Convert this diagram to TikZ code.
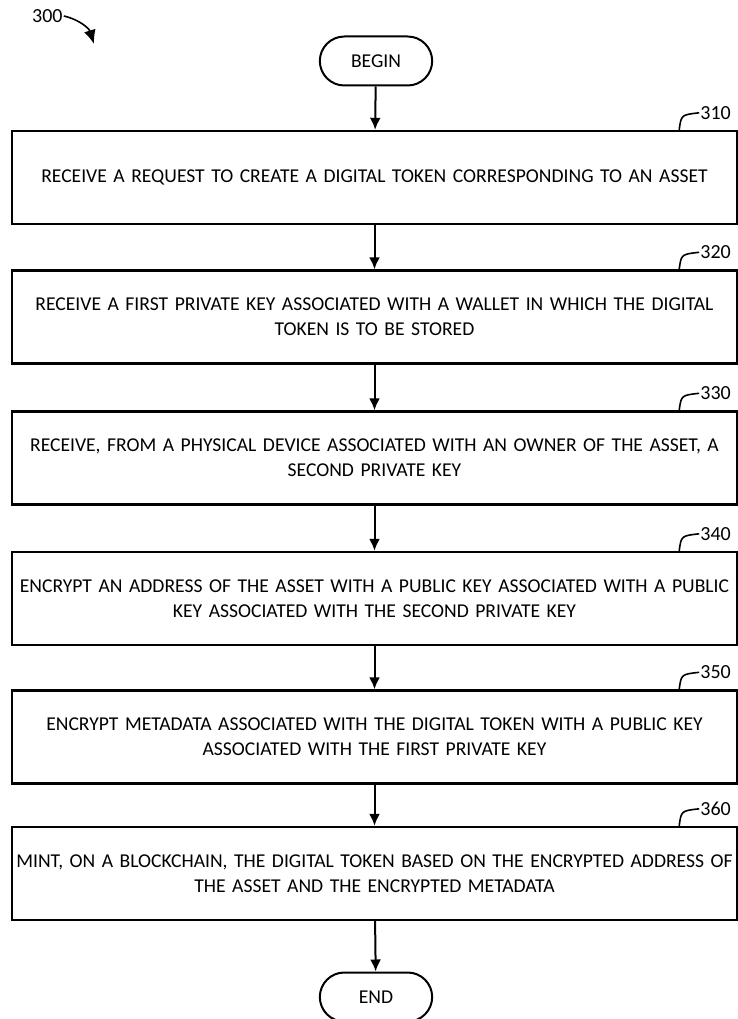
\documentclass[tikz,border=0pt]{standalone}
\usepackage{fontspec}
\setmainfont{Carlito}
\usetikzlibrary{shapes.misc,calc,arrows.meta}
\begin{document}
\begin{tikzpicture}[x=1pt,y=-1pt]
		\tikzstyle{step box}=[rectangle,draw,line width=2.4pt,minimum width=725pt,minimum height=93pt,text width=722pt,align=center,inner sep=1pt,font=\fontsize{19.6}{25}\selectfont]
		\tikzstyle{term}=[rounded rectangle,draw,line width=2pt,minimum width=119pt,minimum height=49pt,font=\fontsize{19.6}{22}\selectfont]
		\tikzstyle{edge}=[-{Latex[length=12pt,width=11pt]},line width=2pt]
		\tikzstyle{refnum}=[anchor=west,inner sep=1pt,font=\fontsize{20}{22}\selectfont]
		
		\useasboundingbox (0,0) rectangle (738,1019);
		
		\node [term] (begin) at (376, 61) {BEGIN};
		
		\node [step box] (s310) at (374.5, 177.5) {RECEIVE A REQUEST TO CREATE A DIGITAL TOKEN CORRESPONDING TO AN ASSET};
		\node [step box] (s320) at (374.5, 317) {RECEIVE A FIRST PRIVATE KEY ASSOCIATED WITH A WALLET IN WHICH THE DIGITAL\\TOKEN IS TO BE STORED};
		\node [step box] (s330) at (374.5, 458) {RECEIVE, FROM A PHYSICAL DEVICE ASSOCIATED WITH AN OWNER OF THE ASSET, A\\SECOND PRIVATE KEY};
		\node [step box] (s340) at (374.5, 598.5) {ENCRYPT AN ADDRESS OF THE ASSET WITH A PUBLIC KEY ASSOCIATED WITH A PUBLIC\\KEY ASSOCIATED WITH THE SECOND PRIVATE KEY};
		\node [step box] (s350) at (374.5, 737) {ENCRYPT METADATA ASSOCIATED WITH THE DIGITAL TOKEN WITH A PUBLIC KEY\\ASSOCIATED WITH THE FIRST PRIVATE KEY};
		\node [step box] (s360) at (374.5, 873.5) {MINT, ON A BLOCKCHAIN, THE DIGITAL TOKEN BASED ON THE ENCRYPTED ADDRESS OF\\THE ASSET AND THE ENCRYPTED METADATA};
		
		\node [term] (end) at (376, 997) {END};
		
		\draw[edge] (begin) -- (s310);
		\draw[edge] (s310) -- (s320);
		\draw[edge] (s320) -- (s330);
		\draw[edge] (s330) -- (s340);
		\draw[edge] (s340) -- (s350);
		\draw[edge] (s350) -- (s360);
		\draw[edge] (s360) -- (end);
		
		% figure number
		\node [refnum] (fig) at (31, 16) {300};
		\coordinate (figtip) at (94, 44);
		\draw[-{Latex[length=14pt,width=12pt]},line width=1.6pt] (fig.east) to [bend left=30] (figtip);
		
		% reference numerals
		\foreach \n in {310,320,330,340,350,360}{
			\node [refnum] (r\n) at ($(s\n.north east)+(-39,-17)$) {\n};
			\draw[line width=1.6pt] ($(s\n.north east)+(-59,0)$) .. controls +(2,-15) .. (r\n.west);
		}
	\end{tikzpicture}
\end{document}
